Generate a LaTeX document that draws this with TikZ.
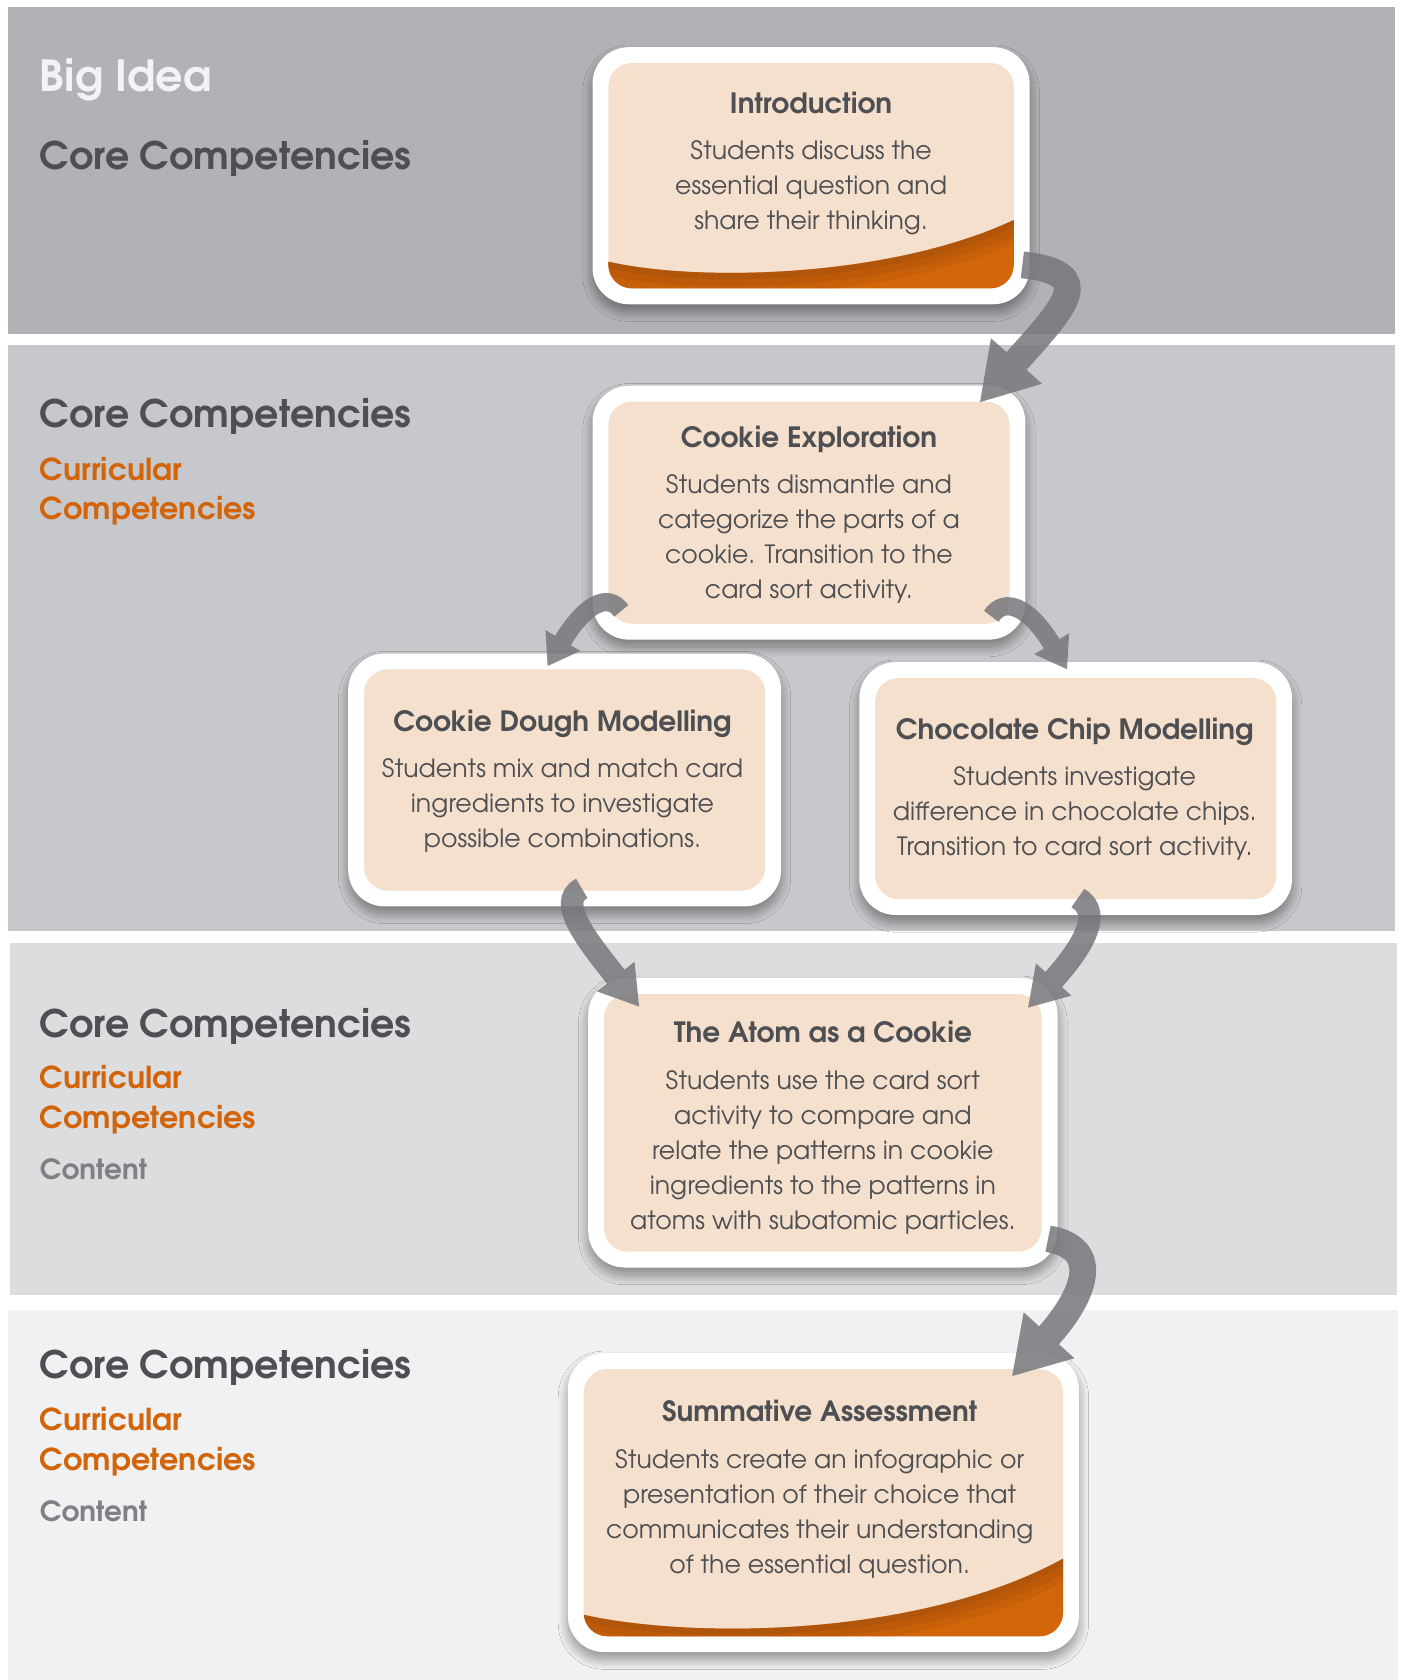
\documentclass[tikz,border=0pt]{standalone}
\usepackage{fontspec}
\setmainfont{texgyreadventor}[Extension=.otf, UprightFont=*-regular, BoldFont=*-bold, ItalicFont=*-italic, BoldItalicFont=*-bolditalic]
\usetikzlibrary{arrows.meta,shadows.blur}
\definecolor{bandA}{HTML}{B1B2B6}
\definecolor{bandB}{HTML}{C7C8CB}
\definecolor{bandC}{HTML}{DCDDDF}
\definecolor{bandD}{HTML}{F0F1F3}
\definecolor{txt}{HTML}{4D4F53}
\definecolor{org}{HTML}{D2640A}
\definecolor{cnt}{HTML}{7E8084}
\definecolor{bigc}{HTML}{F3F3F5}
\definecolor{peach}{HTML}{F5E0CD}
\definecolor{arrg}{HTML}{76777B}
\definecolor{swd}{HTML}{9A4A0C}
\definecolor{swl}{HTML}{D4660A}
\tikzset{
  hdr/.style={anchor=base west, inner sep=0pt, text=txt, font=\fontsize{35.4}{42}\selectfont\bfseries},
  cur/.style={anchor=base west, inner sep=0pt, text=org, font=\fontsize{28.2}{34}\selectfont\bfseries},
  cnt/.style={anchor=base west, inner sep=0pt, text=cnt, font=\fontsize{26}{32}\selectfont\bfseries},
  outerbox/.style={rectangle, rounded corners=34pt, fill=white, inner sep=0pt,
    blur shadow={shadow xshift=0pt, shadow yshift=-7pt, shadow blur radius=9pt, shadow blur steps=16, shadow opacity=40}},
  ttl/.style={anchor=base, inner sep=0pt, text=txt, font=\fontsize{26.1}{32}\selectfont\bfseries},
  bdy/.style={anchor=base, inner sep=0pt, text=txt, align=center, font=\fontsize{23.5}{32.6}\selectfont},
  arr/.style={draw=arrg},
}
\newcommand{\innerbox}[1]{\fill[peach, rounded corners=22pt] ([shift={(15,15)}]#1.north west) rectangle ([shift={(-15,-15)}]#1.south east);}
\newcommand{\swoosh}[5]{% node, left y, ctrl1, ctrl2, right y
  \begin{scope}
    \clip[rounded corners=22pt] ([shift={(15,15)}]#1.north west) rectangle ([shift={(-15,-15)}]#1.south east);
    \clip ([shift={(10,0)}]#1.west |- 0,#2) .. controls #3 and #4 .. ([shift={(-10,0)}]#1.east |- 0,#5) -- (#1.south east) -- (#1.south west) -- cycle;
    \fill[swl] (#1.north west) rectangle (#1.south east);
    \foreach \w/\o in {40/0.2,26/0.25,12/0.3}{
      \draw[swd, line width=\w pt, opacity=\o] ([shift={(10,0)}]#1.west |- 0,#2) .. controls #3 and #4 .. ([shift={(-10,0)}]#1.east |- 0,#5);
    }
  \end{scope}}
\begin{document}
\begin{tikzpicture}[x=1pt,y=-1pt]
\useasboundingbox (0,0) rectangle (1309,1568);
\fill[white] (0,0) rectangle (1309,1568);
% bands
\fill[bandA] (7,7) rectangle (1302,312);
\fill[bandB] (7,322) rectangle (1302,869);
\fill[bandC] (9,880) rectangle (1304,1209);
\fill[bandD] (7,1223) rectangle (1305,1568);
% left labels
\node[hdr, text=bigc, font=\fontsize{40}{46}\selectfont\bfseries] (big) at (37,85) {Big Idea};
\node[hdr] (cc1) at (37,158) {Core Competencies};
\node[hdr] (cc2) at (37,399) {Core Competencies};
\node[cur] (cu2a) at (37,448) {Curricular};
\node[cur] (cu2b) at (37,485) {Competencies};
\node[hdr] (cc3) at (37,968) {Core Competencies};
\node[cur] (cu3a) at (37,1016) {Curricular};
\node[cur] (cu3b) at (37,1053) {Competencies};
\node[cnt] (ct3) at (37,1101) {Content};
\node[hdr] (cc4) at (37,1287) {Core Competencies};
\node[cur] (cu4a) at (37,1335) {Curricular};
\node[cur] (cu4b) at (37,1372) {Competencies};
\node[cnt] (ct4) at (37,1420) {Content};
% boxes
\node[outerbox, minimum width=408pt, minimum height=240pt] (intro) at (757,164) {};
\node[outerbox, minimum width=404pt, minimum height=237pt] (expl) at (755,478.5) {};
\node[outerbox, minimum width=404pt, minimum height=236pt] (dough) at (527,728) {};
\node[outerbox, minimum width=404pt, minimum height=236pt] (choc) at (1004,736) {};
\node[outerbox, minimum width=438pt, minimum height=270pt] (atom) at (768,1048) {};
\node[outerbox, minimum width=477pt, minimum height=279pt] (summ) at (768.5,1402.5) {};
\innerbox{intro}
\innerbox{expl}
\innerbox{dough}
\innerbox{choc}
\innerbox{atom}
\innerbox{summ}
\swoosh{intro}{243}{(640,263)}{(830,262)}{203}
\swoosh{summ}{1506}{(640,1530)}{(860,1530)}{1452}
% texts (body anchor = baseline of last line)
\node[ttl] (introt) at (757,106) {Introduction};
\node[bdy] (introb) at (757,214.2) {Students discuss the\\essential question and\\share their thinking.};
\node[ttl] (explt) at (755,418) {Cookie Exploration};
\node[bdy] (explb) at (755,558.8) {Students dismantle and\\categorize the parts of a\\cookie. Transition to the\\card sort activity.};
\node[ttl] (dought) at (525,683) {Cookie Dough Modelling};
\node[bdy] (doughb) at (525,791.2) {Students mix and match card\\ingredients to investigate\\possible combinations.};
\node[ttl] (choct) at (1003,690) {Chocolate Chip Modelling};
\node[bdy] (chocb) at (1003,798.2) {Students investigate\\difference in chocolate chips.\\Transition to card sort activity.};
\node[ttl] (atomt) at (768,973) {The Atom as a Cookie};
\node[bdy] (atomb) at (768,1147.4) {Students use the card sort\\activity to compare and\\relate the patterns in cookie\\ingredients to the patterns in\\atoms with subatomic particles.};
\node[ttl] (summt) at (765,1327) {Summative Assessment};
\node[bdy] (summb) at (765,1468.8) {Students create an infographic or\\presentation of their choice that\\communicates their understanding\\of the essential question.};
% arrows
\begin{scope}[transparency group, opacity=0.85]
\draw[arr, line width=25pt, -{Triangle[length=52pt,width=60pt]}]
  ([shift={(-7,-37)}]intro.south east) .. controls (1025,255) and (995,285) .. ([shift={(-43,16)}]expl.north east);
\draw[arr, line width=17pt, -{Triangle[length=28pt,width=36pt]}]
  ([shift={(27,-27)}]expl.south west) .. controls (567,552) and (545,565) .. ([shift={(-16,12)}]dough.north);
\draw[arr, line width=17pt, -{Triangle[length=28pt,width=36pt]}]
  ([shift={(-32,-22)}]expl.south east) .. controls (937,557) and (960,565) .. ([shift={(-8,7)}]choc.north);
\draw[arr, line width=21pt, -{Triangle[length=36pt,width=42pt]}]
  ([shift={(16,-17)}]dough.south) .. controls (518,842) and (550,880) .. ([shift={(48,27)}]atom.north west);
\draw[arr, line width=21pt, -{Triangle[length=36pt,width=42pt]}]
  ([shift={(2,-16)}]choc.south) .. controls (1030,852) and (1010,885) .. ([shift={(-28,28)}]atom.north east);
\draw[arr, line width=25pt, -{Triangle[length=52pt,width=60pt]}]
  ([shift={(-9,-27)}]atom.south east) .. controls (1030,1165) and (1012,1210) .. ([shift={(-63,22)}]summ.north east);
\end{scope}
\end{tikzpicture}
\end{document}
